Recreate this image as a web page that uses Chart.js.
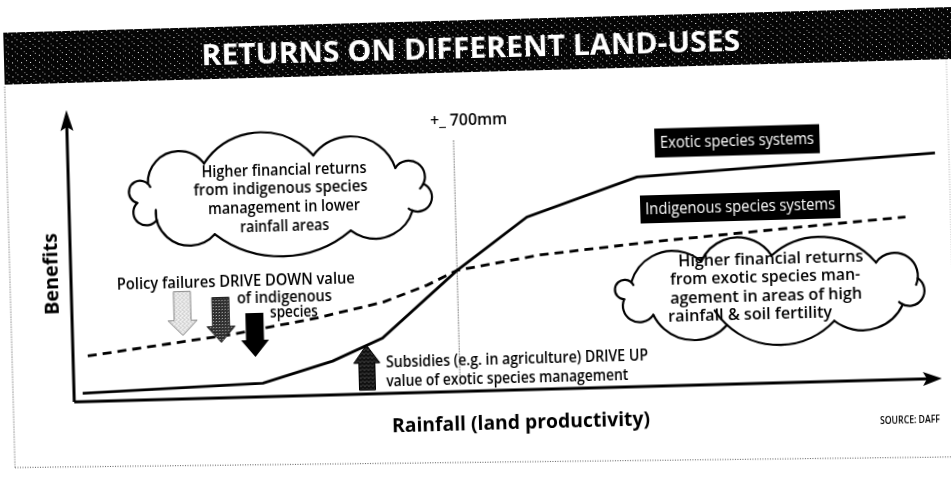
<!DOCTYPE html>
<html><head><meta charset="utf-8">
<script src="https://cdn.jsdelivr.net/npm/chart.js@4.4.1/dist/chart.umd.min.js"></script>
<style>
html,body{margin:0;padding:0;background:#fff;overflow:hidden;width:951px;height:478px;}
#wrap{position:absolute;left:-30px;top:-30px;width:1011px;height:538px;transform:rotate(-1.55deg);transform-origin:50% 50%;}
canvas{display:block;}
</style></head><body>
<div id="wrap"><canvas id="c" width="1011" height="538"></canvas></div>
<script>
// ---- data (conceptual curves) ----
const rainfallExotic      = [1.0, 21.8, 29.9, 35.7, 44.5, 52.7, 65.5, 99.9];
const benefitsExotic      = [2.9, 4.7, 11.6, 19.0, 41.5, 59.1, 71.8, 77.3];
const rainfallIndigenous  = [1.7, 18.5, 28.2, 35.9, 41.0, 44.5, 54.1, 66.8, 83.0, 96.3];
const benefitsIndigenous  = [15.6, 21.7, 26.5, 31.3, 36.7, 41.5, 46.0, 49.4, 52.9, 55.6];
const seriesNames = ['Exotic species systems', 'Indigenous species systems'];
const thresholdRainfall = 44.5;
const thresholdLabel = '+_ 700mm';
const titleText = 'RETURNS ON DIFFERENT LAND-USES';
const yAxisTitle = 'Benefits';
const xAxisTitle = 'Rainfall (land productivity)';
const sourceText = 'SOURCE: DAFF';
const cloudLeftText = ['Higher financial returns', 'from indigenous species', 'management in lower', 'rainfall areas'];
const cloudRightText = ['Higher financial returns', 'from exotic species man-', 'agement in areas of high', 'rainfall & soil fertility'];
const policyText = ['Policy failures DRIVE DOWN value', 'of indigenous', 'species'];
const subsidyText = ['Subsidies (e.g. in agriculture) DRIVE UP', 'value of exotic species management'];

const O = 30; // offset of the enlarged canvas
const FONT = '"Open Sans", "Noto Sans", sans-serif';

function pattern(w, h, bg, dots) {
  const c = document.createElement('canvas'); c.width = w; c.height = h;
  const g = c.getContext('2d'); g.fillStyle = bg; g.fillRect(0, 0, w, h);
  dots.forEach(d => { g.fillStyle = d[2]; g.fillRect(d[0], d[1], 1, 1); });
  return c;
}

function fitText(ctx, text, x, y, font, width, align, color) {
  ctx.save();
  ctx.font = font;
  const w = ctx.measureText(text).width;
  const s = width / w;
  ctx.translate(x, y);
  ctx.scale(s, 1);
  ctx.textAlign = align || 'left';
  ctx.textBaseline = 'middle';
  ctx.fillStyle = color || '#000';
  ctx.fillText(text, 0, 0);
  ctx.restore();
}

// cloud outline: cusps on an ellipse joined by outward circular bumps of given heights (px)
function drawCloud(ctx, cx, cy, a, b, cusps, bulges, hooks) {
  const pts = cusps.map(d => { const t = d * Math.PI / 180; return [cx + a * Math.cos(t), cy + b * Math.sin(t)]; });
  const n = pts.length;
  ctx.save();
  ctx.strokeStyle = '#000'; ctx.lineWidth = 2.2; ctx.lineCap = 'round';
  for (let i = 0; i < n; i++) {
    const P = pts[i], Q = pts[(i + 1) % n];
    const mx = (P[0] + Q[0]) / 2, my = (P[1] + Q[1]) / 2;
    const c = Math.hypot(Q[0] - P[0], Q[1] - P[1]);
    let nx = (mx - cx) / (a * a), ny = (my - cy) / (b * b);
    const nl = Math.hypot(nx, ny); nx /= nl; ny /= nl;
    const qq = Math.min(0.9, Math.max(0.08, bulges[i] / c));
    const din = (0.25 - qq * qq) / (2 * qq) * c;
    const r = qq * c + din;
    const Cx = mx - nx * din, Cy = my - ny * din;
    const a0 = Math.atan2(P[1] - Cy, P[0] - Cx);
    const a1 = Math.atan2(Q[1] - Cy, Q[0] - Cx);
    const am = Math.atan2(ny, nx);
    const TP = Math.PI * 2;
    const cw = ((am - a0 + 4 * TP) % TP) < ((a1 - a0 + 4 * TP) % TP);
    const ov = hooks && hooks[i] ? hooks[i] : 0;
    ctx.beginPath();
    if (cw) ctx.arc(Cx, Cy, r, a0, a1 + ov, false);
    else ctx.arc(Cx, Cy, r, a0, a1 - ov, true);
    ctx.stroke();
  }
  ctx.restore();
}

function blockArrow(ctx, cx, cy, w, h, sw, hl, dir, fill, stroke) {
  ctx.save();
  ctx.translate(cx, cy);
  if (dir < 0) ctx.scale(1, -1);
  const top = -h / 2, tip = h / 2;
  ctx.beginPath();
  ctx.moveTo(-sw / 2, top); ctx.lineTo(sw / 2, top);
  ctx.lineTo(sw / 2, tip - hl); ctx.lineTo(w / 2, tip - hl);
  ctx.lineTo(0, tip); ctx.lineTo(-w / 2, tip - hl);
  ctx.lineTo(-sw / 2, tip - hl); ctx.closePath();
  ctx.fillStyle = fill; ctx.fill();
  if (stroke) { ctx.strokeStyle = stroke; ctx.lineWidth = 1; ctx.stroke(); }
  ctx.restore();
}

const decor = {
  id: 'decor',
  beforeDatasetsDraw(chart) {
    const ctx = chart.ctx;
    const xs = chart.scales.x, ys = chart.scales.y;
    ctx.save();
    // banner
    const bannerPat = ctx.createPattern(pattern(9, 7, '#050505', [[2, 3, '#fff'], [7, 1, '#bbb'], [5, 6, '#888']]), 'repeat');
    ctx.fillStyle = bannerPat;
    ctx.fillRect(9 + O, 20 + O, 990, 52);
    fitText(ctx, titleText, 476 + O, 50 + O, 'bold 28px ' + FONT, 539, 'center', '#fff');
    // frame (dotted)
    ctx.strokeStyle = '#555'; ctx.lineWidth = 1; ctx.setLineDash([1, 1.5]);
    ctx.beginPath(); ctx.moveTo(9 + O, 74 + O); ctx.lineTo(9 + O, 455 + O); ctx.stroke();
    ctx.beginPath(); ctx.moveTo(9 + O, 455 + O); ctx.lineTo(960 + O, 470 + O); ctx.stroke();
    ctx.strokeStyle = '#aaa';
    ctx.beginPath(); ctx.moveTo(951 + O, 62 + O); ctx.lineTo(951 + O, 300 + O); ctx.stroke();
    ctx.setLineDash([]);
    // axes with arrowheads
    const x0 = xs.left, y0 = ys.bottom, xt = xs.right, yt = ys.top;
    ctx.strokeStyle = '#000'; ctx.fillStyle = '#000'; ctx.lineWidth = 3;
    ctx.beginPath(); ctx.moveTo(x0, y0); ctx.lineTo(x0, yt + 16); ctx.stroke();
    ctx.beginPath(); ctx.moveTo(x0, y0); ctx.lineTo(xt - 14, y0); ctx.stroke();
    ctx.beginPath(); ctx.moveTo(x0, yt); ctx.lineTo(x0 + 6.5, yt + 21); ctx.lineTo(x0, yt + 17); ctx.lineTo(x0 - 6.5, yt + 21); ctx.closePath(); ctx.fill();
    ctx.beginPath(); ctx.moveTo(xt, y0); ctx.lineTo(xt - 19, y0 - 7); ctx.lineTo(xt - 15, y0); ctx.lineTo(xt - 19, y0 + 7); ctx.closePath(); ctx.fill();
    // threshold line
    const tx = xs.getPixelForValue(thresholdRainfall);
    ctx.strokeStyle = '#444'; ctx.lineWidth = 1.2; ctx.setLineDash([1, 1.6]);
    ctx.beginPath(); ctx.moveTo(tx, 140 + O); ctx.lineTo(tx, y0 - 6); ctx.stroke();
    ctx.setLineDash([]);
    fitText(ctx, thresholdLabel, tx - 23, 120 + O, '600 16px ' + FONT, 77, 'left');
    // axis titles and source
    ctx.save();
    ctx.translate(52 + O, 262.6 + O); ctx.rotate(-Math.PI / 2);
    fitText(ctx, yAxisTitle, 0, 0, 'bold 19px ' + FONT, 82, 'center');
    ctx.restore();
    fitText(ctx, xAxisTitle, 516 + O, 424 + O, 'bold 20px ' + FONT, 258, 'center');
    fitText(ctx, sourceText, 905 + O, 431.7 + O, '600 11px ' + FONT, 60, 'center');
    ctx.restore();
  },
  afterDatasetsDraw(chart) {
    const ctx = chart.ctx;
    ctx.save();
    ctx.translate(O, O);
    // clouds
    drawCloud(ctx, 283, 191, 145, 41,
      [-12, 26, 62, 118, 150, 176, 203, 238, 283, 322],
      [14, 17, 24, 18, 14, 14, 22, 27, 25, 15],
      [0.3, 0, 0, 0.3, 0, 0.35, 0, 0, 0, 0.35]);
    drawCloud(ctx, 771, 298.5, 150, 35,
      [-14, 30, 66, 108, 143, 172, 200, 242, 270, 314],
      [14, 17, 22, 20, 15, 13, 20, 21, 22, 17],
      [0.3, 0, 0.25, 0, 0, 0.35, 0, 0, 0, 0.3]);
    const tf = '600 16px ' + FONT;
    fitText(ctx, cloudLeftText[0], 286, 165, tf, 165, 'center');
    fitText(ctx, cloudLeftText[1], 282, 183.5, tf, 174, 'center');
    fitText(ctx, cloudLeftText[2], 285, 202, tf, 152, 'center');
    fitText(ctx, cloudLeftText[3], 285, 221, tf, 89, 'center');
    fitText(ctx, cloudRightText[0], 677.5, 267, tf, 185, 'left');
    fitText(ctx, cloudRightText[1], 669, 285.8, tf, 190, 'left');
    fitText(ctx, cloudRightText[2], 668.4, 304.8, tf, 192, 'left');
    fitText(ctx, cloudRightText[3], 666, 322.4, tf, 164, 'left');
    // series label boxes
    ctx.fillStyle = '#000';
    ctx.fillRect(739.6 - 82.5, 148 - 14.5, 165, 29);
    fitText(ctx, seriesNames[0], 739.6, 148, '16px ' + FONT, 154, 'center', '#fff');
    ctx.fillStyle = '#000';
    ctx.fillRect(741 - 100, 214 - 14, 200, 28);
    fitText(ctx, seriesNames[1], 741, 214, '16px ' + FONT, 190, 'center', '#fff');
    // policy text + arrows
    const pf = '600 17px ' + FONT;
    fitText(ctx, policyText[0], 115.8, 275.5, pf, 238, 'left');
    fitText(ctx, policyText[1], 235.4, 291.8, pf, 95, 'left');
    fitText(ctx, policyText[2], 268, 307, pf, 48, 'left');
    const light = ctx.createPattern(pattern(4, 4, '#f4f4f4', [[0, 0, '#9a9a9a'], [2, 1, '#b0b0b0'], [1, 2, '#a0a0a0'], [3, 3, '#c0c0c0']]), 'repeat');
    const dark = ctx.createPattern(pattern(3, 3, '#2a2a2a', [[1, 1, '#d0d0d0'], [0, 2, '#555']]), 'repeat');
    const darker = ctx.createPattern(pattern(4, 4, '#111', [[1, 1, '#888'], [3, 2, '#666']]), 'repeat');
    blockArrow(ctx, 180.5, 305.6, 29, 44, 17, 15, 1, light, '#8a8a8a');
    blockArrow(ctx, 218.8, 313, 28, 45, 17, 16, 1, dark, '#222');
    blockArrow(ctx, 252.4, 329, 28, 44, 18, 17, 1, '#000', null);
    blockArrow(ctx, 363.5, 364.6, 26, 45, 16, 18, -1, darker, '#000');
    const sf = '600 17px ' + FONT;
    fitText(ctx, subsidyText[0], 382.8, 360, sf, 262, 'left');
    fitText(ctx, subsidyText[1], 382.4, 379, sf, 242, 'left');
    ctx.restore();
  }
};

new Chart(document.getElementById('c').getContext('2d'), {
  type: 'line',
  data: {
    datasets: [
      { label: seriesNames[0], data: rainfallExotic.map((x, i) => ({ x: x, y: benefitsExotic[i] })),
        borderColor: '#000', borderWidth: 2.8, pointRadius: 0, tension: 0, fill: false },
      { label: seriesNames[1], data: rainfallIndigenous.map((x, i) => ({ x: x, y: benefitsIndigenous[i] })),
        borderColor: '#000', borderWidth: 2.8, borderDash: [9, 6], pointRadius: 0, tension: 0, fill: false }
    ]
  },
  options: {
    responsive: false, animation: false, devicePixelRatio: 1, events: [],
    layout: { padding: { left: 70 + O, right: 1011 - 938 - O, top: 99 + O, bottom: 538 - 391 - O } },
    scales: {
      x: { type: 'linear', min: 0, max: 100, display: false },
      y: { type: 'linear', min: 0, max: 100, display: false }
    },
    plugins: { legend: { display: false }, tooltip: { enabled: false }, title: { display: false } }
  },
  plugins: [decor]
});
</script>
</body></html>
